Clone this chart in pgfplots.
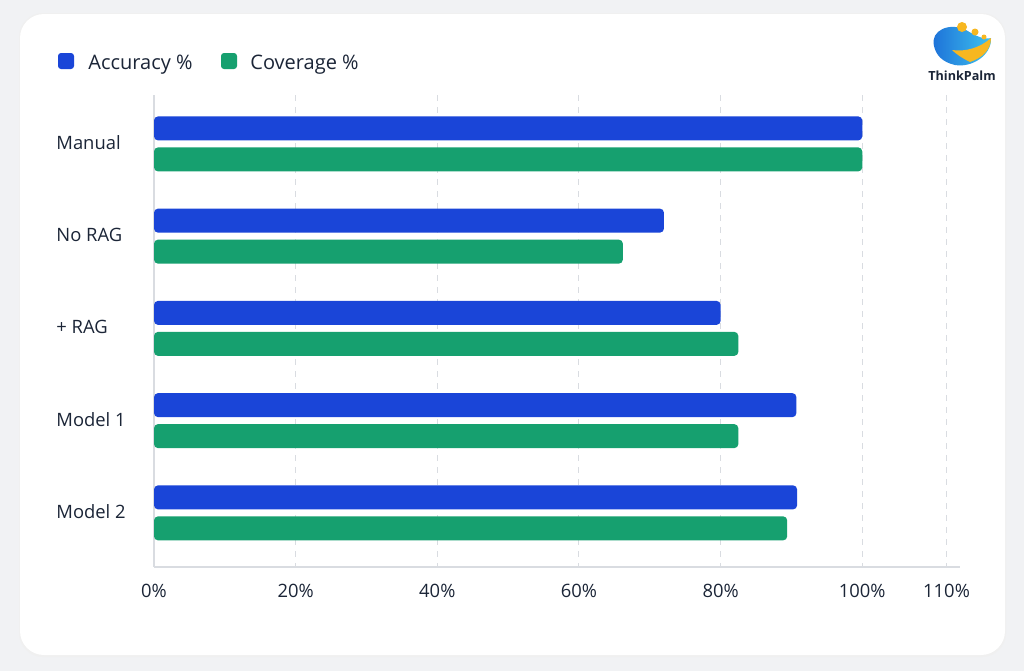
\documentclass[border=0pt]{standalone}
\usepackage{pgfplots}
\pgfplotsset{compat=1.18}
\usepackage{fontspec}
\setmainfont{Open Sans}
\definecolor{accblue}{HTML}{1A45D8}
\definecolor{covgreen}{HTML}{16A06F}
\definecolor{txt}{HTML}{1B2537}
\definecolor{gridc}{HTML}{D9DCE1}
\definecolor{bgc}{HTML}{F1F2F4}
\definecolor{logoblue}{HTML}{1C6FD8}
\definecolor{logocyan}{HTML}{3FC3EE}
\definecolor{logoyellow}{HTML}{F7B720}
\begin{document}
\begin{tikzpicture}[x=0.5pt,y=-0.5pt]
\fill[bgc] (0,0) rectangle (1024,671);
\fill[gray!12, rounded corners=12pt] (19,13) rectangle (1006,657);
\fill[white, rounded corners=12pt] (20,14) rectangle (1005,655);
% legend
\fill[accblue, rounded corners=1.5pt] (58,53) rectangle (74,69);
\node[anchor=base west, inner sep=0, text=txt, font=\fontsize{10pt}{12pt}\selectfont] at (88,69) {Accuracy \%};
\fill[covgreen, rounded corners=1.5pt] (221,53) rectangle (237,69);
\node[anchor=base west, inner sep=0, text=txt, font=\fontsize{10pt}{12pt}\selectfont] at (250,69) {Coverage \%};
% logo
\shade[left color=logoblue, right color=logocyan]
  (934,46) .. controls (930,30) and (950,22) .. (966,30) .. controls (976,36) and (984,40) .. (991,38)
  .. controls (992,55) and (972,68) .. (955,65) .. controls (942,62) and (936,55) .. (934,46) -- cycle;
\fill[logoyellow] (952,50) .. controls (965,52) and (980,48) .. (991,38)
  .. controls (991,50) and (982,58) .. (970,62) .. controls (962,58) and (956,54) .. (952,50) -- cycle;
\fill[logoyellow] (962,27) circle (5);
\fill[logoyellow] (975,32) circle (3.5);
\fill[logoyellow] (984,37) circle (2.5);
\node[text=txt, font=\fontsize{6.3pt}{7pt}\selectfont\bfseries, inner sep=0] at (962,76) {ThinkPalm};
\coordinate (A) at (154,567);
\begin{axis}[
  at={(A)}, anchor=south west, scale only axis,
  width=403pt, height=236pt,
  xbar, xmin=0, xmax=113.8, ymin=-0.53, ymax=4.587, y dir=reverse,
  ytick={0,1,2,3,4}, yticklabels={Manual,No RAG,+ RAG,Model 1,Model 2},
  xtick={0,20,40,60,80,100,111.9},
  xticklabels={0\%,20\%,40\%,60\%,80\%,100\%,110\%},
  axis x line*=bottom, axis y line*=left,
  axis line style={draw=gridc, line width=0.6pt, -},
  major tick length=0pt,
  xmajorgrids, major grid style={draw=gridc, dashed, line width=0.5pt},
  tick label style={text=txt, font=\fontsize{9.2pt}{11pt}\selectfont},
  yticklabel style={anchor=west, inner sep=0pt, xshift=-49pt, yshift=0.5pt},
  xticklabel style={yshift=-5pt},
  clip=false,
]
\addplot[fill=accblue, draw=none, bar width=12pt, bar shift=7.75pt, rounded corners=2pt]
  coordinates {(100,0) (72,1) (80,2) (90.7,3) (90.8,4)};
\addplot[fill=covgreen, draw=none, bar width=12pt, bar shift=-7.75pt, rounded corners=2pt]
  coordinates {(100,0) (66.2,1) (82.5,2) (82.5,3) (89.4,4)};
\end{axis}
\end{tikzpicture}
\end{document}
